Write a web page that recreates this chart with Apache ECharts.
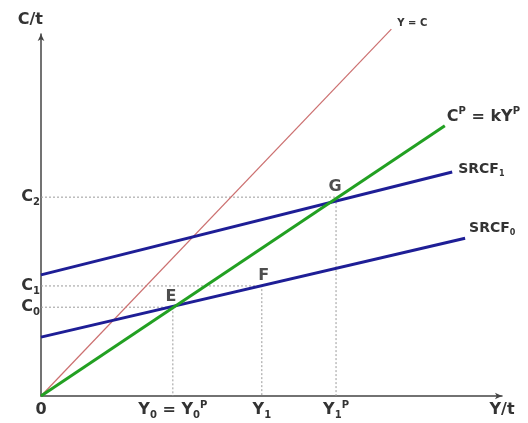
<!DOCTYPE html>
<html>
<head>
<meta charset="utf-8">
<script src="https://cdn.jsdelivr.net/npm/echarts@6/dist/echarts.min.js"></script>
<style>html,body{margin:0;padding:0;background:#fff}#c{width:528px;height:423px}</style>
</head>
<body>
<div id="c"></div>
<script>
// Income levels (x) and consumption levels (y)
const Y0 = 28.6, Y1 = 47.9, Y1P = 64.0;
const C0 = 18.4, C1 = 22.8, C2 = 41.2;
const xTickValues = [0, Y0, Y1, Y1P, 100];
const xTickLabels = ['{b|0}', '{b|Y}{sub|0}{b| = Y}{sub|0}{sup|P}', '{b|Y}{sub|1}', '{b|Y}{sub|1}{sup|P}', '{b|Y/t}'];
const yTickValues = [C0, C1, C2];
const yTickLabels = ['{b|C}{sub|0}', '{b|C}{sub|1}', '{b|C}{sub|2}'];
const lineYC = [[0, 0], [76.0, 76.0]];
const linePermanent = [[0, 0], [87.6, 56.0]];
const lineSRCF0 = [[0, 12.2], [92.0, 32.7]];
const lineSRCF1 = [[0, 25.1], [89.2, 46.4]];
const guideG = [[0, C2], [Y1P, C2], [Y1P, 0]];
const guideF = [[0, C1], [Y1, C1], [Y1, 0]];
const guideE = [[0, C0], [Y0, C0], [Y0, 0]];
const pointNames = ['E', 'F', 'G'];
const pointCoords = [[Y0, C0], [Y1, C1], [Y1P, C2]];

const FONT = '"DejaVu Sans", Verdana, sans-serif';
const TXT = '#333';
const rich = {
  b: {fontSize: 16, fontFamily: FONT, fontWeight: 'bold', color: TXT, lineHeight: 20, verticalAlign: 'middle'},
  sub: {fontSize: 10, fontFamily: FONT, fontWeight: 'bold', color: TXT, lineHeight: 10, verticalAlign: 'bottom'},
  sup: {fontSize: 10, fontFamily: FONT, fontWeight: 'bold', color: TXT, lineHeight: 10, verticalAlign: 'top'},
  s: {fontSize: 14, fontFamily: FONT, color: TXT, fontWeight: 'bold', lineHeight: 18, verticalAlign: 'middle'},
  ssub: {fontSize: 8, fontFamily: FONT, fontWeight: 'bold', color: TXT, lineHeight: 8, verticalAlign: 'bottom'},
  t: {fontSize: 10, fontFamily: FONT, color: TXT, fontWeight: 'bold'}
};
function fmtX(v) { const i = xTickValues.findIndex(t => Math.abs(t - v) < 1e-6); return i >= 0 ? xTickLabels[i] : ''; }
function fmtY(v) { const i = yTickValues.findIndex(t => Math.abs(t - v) < 1e-6); return i >= 0 ? yTickLabels[i] : ''; }

const guideStyle = {color: '#9a9a9a', width: 1, type: [2, 2]};
function guide(d) { return {type: 'line', data: d, symbol: 'none', lineStyle: guideStyle, silent: true, z: 1}; }

const chart = echarts.init(document.getElementById('c'));
chart.setOption({
  animation: false,
  backgroundColor: '#fff',
  grid: {left: 41, right: 26, top: 34, bottom: 27, containLabel: false},
  xAxis: {
    type: 'value', min: 0, max: 100,
    splitLine: {show: false},
    axisTick: {show: false},
    axisLine: {lineStyle: {color: '#444', width: 1.5}, symbol: ['none', 'arrow'], symbolSize: [5, 7]},
    axisLabel: {customValues: xTickValues, formatter: fmtX, rich: rich, margin: 4}
  },
  yAxis: {
    type: 'value', min: 0, max: 75,
    splitLine: {show: false},
    axisTick: {show: false},
    axisLine: {lineStyle: {color: '#444', width: 1.5}, symbol: ['none', 'arrow'], symbolSize: [5, 7]},
    axisLabel: {customValues: yTickValues, formatter: fmtY, rich: rich, margin: 1},
    name: 'C/t', nameLocation: 'end', nameGap: 6,
    nameTextStyle: {fontSize: 16, fontFamily: FONT, color: TXT, fontWeight: 'bold', align: 'right', verticalAlign: 'bottom', padding: [0, -2, 0, 0]}
  },
  series: [
    guide(guideG), guide(guideF), guide(guideE),
    {type: 'line', data: lineYC, symbol: 'none', clip: false, lineStyle: {color: '#cc7070', width: 1.2}, z: 2,
     endLabel: {show: true, formatter: '{t|Y = C}', rich: rich, distance: 6, offset: [0, -6]}},
    {type: 'line', data: lineSRCF0, symbol: 'none', lineStyle: {color: '#1e1e96', width: 3}, z: 3,
     endLabel: {show: true, formatter: '{s|SRCF}{ssub|0}', rich: rich, distance: 4, offset: [0, -10]}},
    {type: 'line', data: lineSRCF1, symbol: 'none', lineStyle: {color: '#1e1e96', width: 3}, z: 3,
     endLabel: {show: true, formatter: '{s|SRCF}{ssub|1}', rich: rich, distance: 6, offset: [0, -3]}},
    {type: 'line', data: linePermanent, symbol: 'none', lineStyle: {color: '#22a022', width: 3}, z: 4,
     endLabel: {show: true, formatter: '{b|C}{sup|P}{b| = kY}{sup|P}', rich: rich, distance: 2, offset: [0, -9]}},
    {type: 'scatter', symbolSize: 0, z: 5,
     data: pointCoords.map((c, i) => ({value: c, name: pointNames[i]})),
     label: {show: true, position: 'top', distance: 0, formatter: p => p.name,
       fontSize: 16, fontFamily: FONT, fontWeight: 'bold', color: '#222', lineHeight: 20},
     labelLayout: function (p) {
       const off = [[-2, 0], [2, 0], [-1, 0]][p.dataIndex];
       return {dx: off[0], dy: off[1]};
     }}
  ]
});
</script>
</body>
</html>
